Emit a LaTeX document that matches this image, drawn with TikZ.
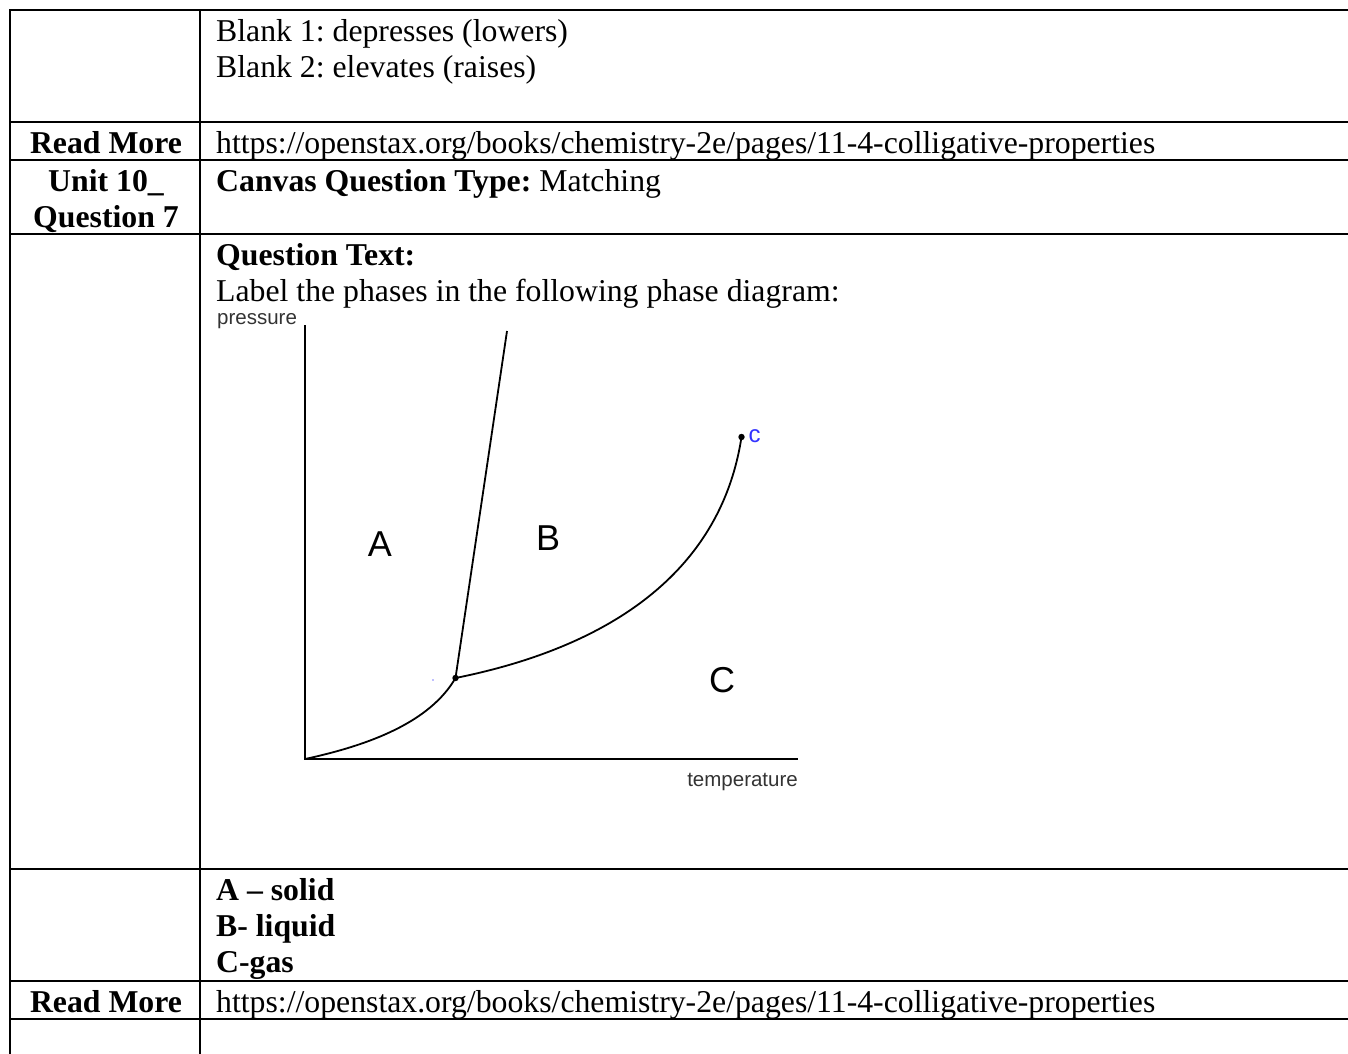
\documentclass[tikz,border=0pt]{standalone}
\usepackage{fontspec}
\setmainfont{Liberation Serif}
\newfontfamily\arialfont{Liberation Sans}
\frenchspacing
\begin{document}
\begin{tikzpicture}[x=1pt,y=-1pt,
  rule/.style={line width=2pt,line cap=rect},
  body/.style={anchor=base west,inner sep=0pt,font=\fontsize{31.75}{36}\selectfont},
  bodyc/.style={anchor=base,inner sep=0pt,font=\fontsize{31.75}{36}\selectfont\bfseries},
  axis/.style={line width=2pt},
  curve/.style={line width=1.8pt},
  region/.style={inner sep=0pt,font=\arialfont\fontsize{36}{36}\selectfont},
  axlabel/.style={inner sep=0pt,text=black!80,font=\arialfont\fontsize{20.5}{20}\selectfont}
]
\useasboundingbox (0,0) rectangle (1348,1053);
% table rules
\foreach \yy in {10,122,160,234,869,981,1019}{
  \draw[rule] (10,\yy) -- (1350,\yy);
}
\draw[rule] (10,10) -- (10,1055);
\draw[rule] (200,10) -- (200,1055);

% row 1
\node[body] (b1) at (216,41) {Blank 1: depresses (lowers)};
\node[body] (b2) at (216,77) {Blank 2: elevates (raises)};
% row 2
\node[bodyc] (rm1) at (106,153) {Read More};
\node[body] (url1) at (216,153) {https://openstax.org/books/chemistry-2e/pages/11-4-colligative-properties};
% row 3
\node[bodyc] (u10) at (106,191) {Unit 10\_};
\node[bodyc] (q7) at (106,227.5) {Question 7};
\node[body] (cqt) at (216,191) {\textbf{Canvas Question Type:} Matching};
% row 4
\node[body] (qt) at (216,265) {\textbf{Question Text:}};
\node[body] (lbl) at (216,301) {Label the phases in the following phase diagram:};

% phase diagram
\coordinate (O) at (305,759);
\coordinate (Ytop) at (305,325);
\coordinate (Xend) at (798,759);
\coordinate (T) at (455.5,678);
\coordinate (SLtop) at (507,331);
\coordinate (CP) at (741.5,437);
\draw[axis] (Ytop) -- (O) -- (Xend);
\draw[curve] (O) .. controls (370,745) and (430,722) .. (T);
\draw[curve] (T) -- (SLtop);
\draw[curve] (T) .. controls (620,645) and (722,565) .. (CP);
\fill (T) circle (3.2);
\fill (CP) circle (3.2);
\fill[blue!50] (433,680) circle (0.9);
\node[axlabel,anchor=base west] (pres) at (217,324.5) {pressure};
\node[axlabel,anchor=base east] (temp) at (798,786.5) {temperature};
\node[inner sep=0pt,anchor=base west,text=blue!80!white,font=\arialfont\fontsize{24}{24}\selectfont] (cl) at (748.5,442.5) {c};
\node[region,anchor=base] (A) at (380,556.5) {A};
\node[region,anchor=base] (B) at (548,550.5) {B};
\node[region,anchor=base] (C) at (722,692) {C};

% answer row
\node[body] (ans1) at (216,900) {\textbf{A -- solid}};
\node[body] (ans2) at (216,936) {\textbf{B- liquid}};
\node[body] (ans3) at (216,972) {\textbf{C-gas}};
% read more
\node[bodyc] (rm2) at (106,1012.5) {Read More};
\node[body] (url2) at (216,1012.5) {https://openstax.org/books/chemistry-2e/pages/11-4-colligative-properties};
\end{tikzpicture}
\end{document}
